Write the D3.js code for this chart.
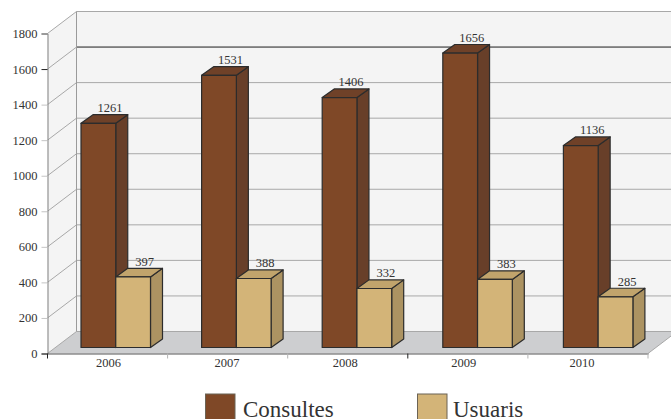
<!DOCTYPE html>
<html>
<head>
<meta charset="utf-8">
<script src="https://cdn.jsdelivr.net/npm/d3@7"></script>
<style>
  html, body { margin: 0; padding: 0; background: #fff; overflow: hidden; }
  svg { display: block; }
  text { font-family: "Liberation Serif", serif; }
</style>
</head>
<body>
<svg id="chart" width="671" height="419"></svg>
<script>
const categories = ['2006', '2007', '2008', '2009', '2010'];
const seriesNames = ['Consultes', 'Usuaris'];
const consultes = [1261, 1531, 1406, 1656, 1136];
const usuaris = [397, 388, 332, 383, 285];
const yTicks = [0, 200, 400, 600, 800, 1000, 1200, 1400, 1600, 1800];

const front = { Consultes: '#7f4827', Usuaris: '#d3b478' };
const topFace = { Consultes: '#6f4128', Usuaris: '#c1a46c' };
const sideFace = { Consultes: '#683f29', Usuaris: '#ac9362' };

const svg = d3.select('#chart');

const X0 = 47.5, X1 = 648, Y0 = 353.5, Y1 = 33.5;
const DX = 29, DY = -22;         // depth of the box
const BAR_DX = 12, BAR_DY = -8.6; // depth of a bar
const BAR_SHIFT = -6;            // bars stand a bit behind the axis

const yScale = d3.scaleLinear().domain([0, 1800]).range([Y0, Y1]);
const xScale = d3.scaleBand().domain(categories).range([X0, X1]);
// bars run on a slightly wider step than the axis ticks
const barScale = d3.scaleBand().domain(categories).range([81, 684]);
const groupScale = d3.scaleBand().domain(seriesNames).range([0, 69.5]);
const labelScale = d3.scalePoint().domain(categories).range([108.6, 582]);

const poly = pts => pts.map(p => p.join(',')).join(' ');

// Walls and floor
svg.append('polygon')
  .attr('points', poly([[X0 + DX, Y1 + DY], [680, Y1 + DY], [680, Y0 + DY], [X0 + DX, Y0 + DY]]))
  .attr('fill', '#f4f4f4');
svg.append('polygon')
  .attr('points', poly([[X0, Y1], [X0 + DX, Y1 + DY], [X0 + DX, Y0 + DY], [X0, Y0]]))
  .attr('fill', '#f4f4f4');
svg.append('polygon')
  .attr('points', poly([[X0, Y0], [X0 + DX, Y0 + DY], [X1 + DX, Y0 + DY], [X1, Y0]]))
  .attr('fill', '#cdced0');

// Grid lines, on the side wall and on the back wall
const grid = svg.append('g').attr('fill', 'none');
yTicks.forEach(t => {
  grid.append('line')
    .attr('x1', X0).attr('y1', yScale(t))
    .attr('x2', X0 + DX).attr('y2', yScale(t) + DY)
    .attr('stroke', '#a8a8a8');
  grid.append('line')
    .attr('x1', X0 + DX).attr('y1', yScale(t) + DY)
    .attr('x2', 680).attr('y2', yScale(t) + DY)
    .attr('stroke', t == 1600 ? '#1c1c1c' : '#a8a8a8');
});
grid.append('line')
  .attr('x1', X0 + DX).attr('y1', Y1 + DY)
  .attr('x2', X0 + DX).attr('y2', Y0 + DY)
  .attr('stroke', '#9a9a9a');
grid.append('line')
  .attr('x1', X1).attr('y1', Y0)
  .attr('x2', X1 + DX).attr('y2', Y0 + DY)
  .attr('stroke', '#a8a8a8');

// Y axis
const yAxis = svg.append('g')
  .attr('transform', `translate(${X0}, 0)`)
  .call(d3.axisLeft(yScale).tickValues(yTicks).tickSize(6).tickPadding(4).tickFormat(d3.format('d')));
yAxis.select('.domain').attr('stroke', '#808080');
yAxis.selectAll('.tick line')
  .attr('stroke', d => (d == 0 || d == 1600) ? '#222' : d == 1800 ? '#777' : '#c4c4c4');
yAxis.selectAll('.tick text')
  .attr('fill', '#333')
  .style('font-size', '12.5px')
  .style('font-family', '"Liberation Serif", serif');

// X axis, the labels do not sit quite at the band centres
const xAxis = svg.append('g')
  .attr('transform', `translate(0, ${Y0})`)
  .call(d3.axisBottom(xScale).tickValues([]).tickSizeOuter(0));
xAxis.select('.domain').attr('stroke', '#555');
categories.concat('end').forEach((c, i) => {
  let x = c == 'end' ? X1 : xScale(c);
  xAxis.append('line')
    .attr('x1', x).attr('x2', x)
    .attr('y1', 0).attr('y2', 5)
    .attr('stroke', i == 0 || i == 3 ? '#222' : '#b4b4b4');
});
svg.append('g').selectAll('text')
  .data(categories)
  .enter()
  .append('text')
  .attr('x', d => labelScale(d))
  .attr('y', 367)
  .attr('text-anchor', 'middle')
  .attr('fill', '#333')
  .style('font-size', '12.5px')
  .text(d => d);

// Bars
const rows = categories.flatMap((c, i) => [
  { cat: c, name: 'Consultes', value: consultes[i] },
  { cat: c, name: 'Usuaris', value: usuaris[i] }
]);

const bars = svg.append('g')
  .selectAll('g')
  .data(rows)
  .enter()
  .append('g')
  .attr('stroke', '#2c2c2c')
  .attr('stroke-width', 1.2)
  .attr('stroke-linejoin', 'round');

const barBox = d => {
  let x = barScale(d.cat) + groupScale(d.name);
  return { x: x, x2: x + groupScale.bandwidth(), y: yScale(d.value) + BAR_SHIFT, b: Y0 + BAR_SHIFT };
};

bars.append('polygon')
  .attr('fill', d => sideFace[d.name])
  .attr('points', d => {
    let r = barBox(d);
    return poly([[r.x2, r.y], [r.x2 + BAR_DX, r.y + BAR_DY], [r.x2 + BAR_DX, r.b + BAR_DY], [r.x2, r.b]]);
  });
bars.append('polygon')
  .attr('fill', d => topFace[d.name])
  .attr('points', d => {
    let r = barBox(d);
    return poly([[r.x, r.y], [r.x + BAR_DX, r.y + BAR_DY], [r.x2 + BAR_DX, r.y + BAR_DY], [r.x2, r.y]]);
  });
bars.append('rect')
  .attr('fill', d => front[d.name])
  .attr('x', d => barBox(d).x)
  .attr('y', d => barBox(d).y)
  .attr('width', groupScale.bandwidth())
  .attr('height', d => barBox(d).b - barBox(d).y);

// Value labels
svg.append('g').selectAll('text')
  .data(rows)
  .enter()
  .append('text')
  .attr('x', d => (barBox(d).x + barBox(d).x2) / 2 + BAR_DX - 0.5)
  .attr('y', d => barBox(d).y + BAR_DY - 2.5)
  .attr('text-anchor', 'middle')
  .attr('fill', '#333')
  .style('font-size', '12.5px')
  .text(d => d.value);

// Legend
const legendX = d3.scalePoint().domain(seriesNames).range([205, 417]);
const legendTextX = d3.scalePoint().domain(seriesNames).range([243, 453]);
const legend = svg.append('g').selectAll('g')
  .data(seriesNames)
  .enter()
  .append('g');
legend.append('rect')
  .attr('x', d => legendX(d) + 0.5).attr('y', 394)
  .attr('width', 29.5).attr('height', 30)
  .attr('fill', d => front[d])
  .attr('stroke', '#6b6355')
  .attr('stroke-width', 1);
legend.append('text')
  .attr('x', d => legendTextX(d)).attr('y', 416.5)
  .attr('fill', '#333')
  .style('font-size', '23px')
  .text(d => d);
</script>
</body>
</html>
